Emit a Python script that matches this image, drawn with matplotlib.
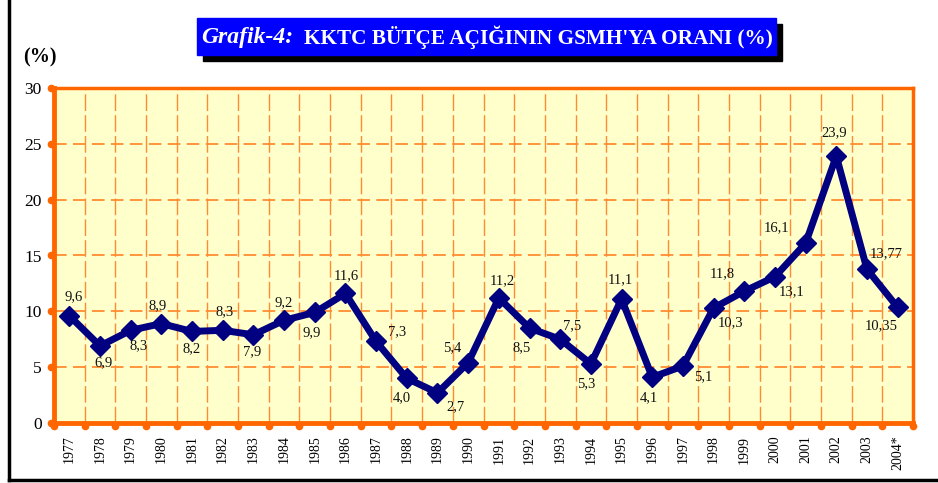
import matplotlib
matplotlib.use("Agg")
import matplotlib.pyplot as plt
from matplotlib.lines import Line2D
from matplotlib.patches import Rectangle
import matplotlib.transforms as mtransforms

years = ["1977", "1978", "1979", "1980", "1981", "1982", "1983", "1984", "1985",
         "1986", "1987", "1988", "1989", "1990", "1991", "1992", "1993", "1994",
         "1995", "1996", "1997", "1998", "1999", "2000", "2001", "2002", "2003", "2004*"]
values = [9.6, 6.9, 8.3, 8.9, 8.2, 8.3, 7.9, 9.2, 9.9, 11.6, 7.3, 4.0, 2.7, 5.4,
          11.2, 8.5, 7.5, 5.3, 11.1, 4.1, 5.1, 10.3, 11.8, 13.1, 16.1, 23.9, 13.77, 10.35]
value_labels = ["9,6", "6,9", "8,3", "8,9", "8,2", "8,3", "7,9", "9,2", "9,9", "11,6",
                "7,3", "4,0", "2,7", "5,4", "11,2", "8,5", "7,5", "5,3", "11,1", "4,1",
                "5,1", "10,3", "11,8", "13,1", "16,1", "23,9", "13,77", "10,35"]
y_ticks = [0, 5, 10, 15, 20, 25, 30]

# label offsets in pixels (dx, dy) relative to point
label_offsets = [(4, 19), (3, -17), (8, -15), (-4, 18), (0, -17), (2, 19), (-1, -17),
                 (0, 18), (-3, -20), (1, 18), (21, 10), (-5, -19), (18, -14), (-16, 15),
                 (3, 17), (-8, -20), (12, 14), (-5, -20), (-1, 19), (-3, -20), (20, -11),
                 (17, -15), (-22, 18), (17, -15), (-29, 16), (-2, 23), (19, 16), (-16, -18)]

serif = ["Liberation Serif", "DejaVu Serif"]
orange = "#FF6600"
grid_orange = "#FF8C33"

fig = plt.figure(figsize=(9.38, 4.83), dpi=100)
W, H = 938, 483

ax = fig.add_axes([54 / W, (H - 423) / H, (913 - 54) / W, (423 - 88) / H])
ax.set_facecolor("#FFFFCC")
n = len(years)
x = list(range(n))
ax.set_xlim(-0.5, n - 0.5)
ax.set_ylim(0, 30)

# grid
for yv in y_ticks[1:-1]:
    ax.axhline(yv, color=grid_orange, lw=1.3, dashes=(7, 3.5), zorder=1)
for k in range(n - 1):
    ax.axvline(k + 0.5, color=grid_orange, lw=1.0, dashes=(12, 3), zorder=1)

# spines
for side in ["left", "bottom"]:
    ax.spines[side].set_color(orange)
    ax.spines[side].set_linewidth(3.5)
for side in ["top", "right"]:
    ax.spines[side].set_color(orange)
    ax.spines[side].set_linewidth(2.5)

ax.plot(x, values, color="#000080", lw=5, marker="D", markersize=10.5,
        markerfacecolor="#000080", markeredgecolor="#000080", zorder=5, clip_on=False)

for xi, v, lab, (dx, dy) in zip(x, values, value_labels, label_offsets):
    ax.annotate(lab, (xi, v), xytext=(dx, dy), textcoords="offset pixels",
                ha="center", va="center", fontsize=10.5, family=serif, color="#111111",
                zorder=6)

# ticks
ax.set_yticks(y_ticks)
ax.set_yticklabels([str(t) for t in y_ticks], family=serif, fontsize=12.5)
ax.tick_params(axis="y", length=0, pad=9)
ax.set_xticks(x)
ax.set_xticklabels(years, rotation=90, family=serif, fontsize=10)
ax.tick_params(axis="x", length=0, pad=9)

# dot tick marks
tr_y = mtransforms.blended_transform_factory(ax.transAxes, ax.transData)
ax.plot([-0.004] * len(y_ticks), y_ticks, "o", color=orange, markersize=4.5,
        transform=tr_y, clip_on=False, zorder=7)
tr_x = mtransforms.blended_transform_factory(ax.transData, ax.transAxes)
bx = [k - 0.5 for k in range(n + 1)]
ax.plot(bx, [-0.01] * len(bx), "o", color=orange, markersize=4.5,
        transform=tr_x, clip_on=False, zorder=7)

# figure frame (left and bottom black lines)
fig.add_artist(Line2D([9 / W, 9 / W], [(H - 480) / H, 1], color="black", lw=2.5,
                      transform=fig.transFigure))
fig.add_artist(Line2D([9 / W, 1], [(H - 480) / H, (H - 480) / H], color="black", lw=2.5,
                      transform=fig.transFigure))

# title box
def fb(x0, y0, x1, y1):
    return (x0 / W, (H - y1) / H), (x1 - x0) / W, (y1 - y0) / H

p, w, h = fb(203, 24, 782, 61)
fig.add_artist(Rectangle(p, w, h, transform=fig.transFigure, color="black", zorder=1))
p, w, h = fb(197, 18, 776, 55)
fig.add_artist(Rectangle(p, w, h, transform=fig.transFigure, color="#0000FF", zorder=2))
fig.text(201 / W, (H - 37) / H, "Grafik-4:", color="white", fontsize=17,
         fontweight="bold", fontstyle="italic", family=serif, va="center", ha="left", zorder=3)
fig.text(304 / W, (H - 37) / H, "KKTC BÜTÇE AÇIĞININ GSMH'YA ORANI (%)", color="white",
         fontsize=15.3, fontweight="bold", family=serif, va="center", ha="left", zorder=3)

fig.text(40 / W, (H - 57) / H, "(%)", fontsize=14.5, fontweight="bold", family=serif,
         ha="center", va="center")

fig.savefig("out.png", dpi=100)
